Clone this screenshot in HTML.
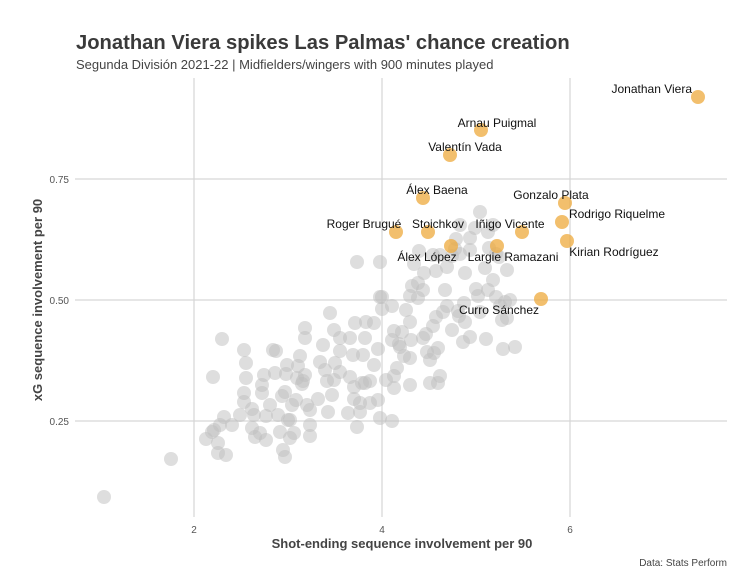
<!DOCTYPE html>
<html><head><meta charset="utf-8"><style>
body{margin:0;background:#fff;}
svg{display:block;font-family:"Liberation Sans",Arial,sans-serif;}
</style></head><body>
<svg width="742" height="571" viewBox="0 0 742 571" xmlns="http://www.w3.org/2000/svg">
<rect width="742" height="571" fill="#fff"/>
<text x="76" y="49" font-size="20.2" font-weight="bold" fill="#3a3a3a">Jonathan Viera spikes Las Palmas' chance creation</text>
<text x="76" y="69" font-size="13" fill="#444">Segunda División 2021-22 | Midfielders/wingers with 900 minutes played</text>
<g stroke="#d6d6d6" stroke-width="1.2">
<line x1="75" y1="179" x2="727" y2="179"/><line x1="75" y1="300" x2="727" y2="300"/><line x1="75" y1="421" x2="727" y2="421"/>
<line x1="194" y1="78" x2="194" y2="517"/><line x1="382" y1="78" x2="382" y2="517"/><line x1="570" y1="78" x2="570" y2="517"/>
</g>
<g font-size="10" fill="#555">
<text x="69" y="183" text-anchor="end">0.75</text><text x="69" y="304" text-anchor="end">0.50</text><text x="69" y="425" text-anchor="end">0.25</text>
<text x="194" y="533" text-anchor="middle">2</text><text x="382" y="533" text-anchor="middle">4</text><text x="570" y="533" text-anchor="middle">6</text>
</g>
<text x="402" y="548" font-size="13" font-weight="bold" fill="#444" text-anchor="middle">Shot-ending sequence involvement per 90</text>
<text transform="translate(42,300) rotate(-90)" font-size="13" font-weight="bold" fill="#444" text-anchor="middle">xG sequence involvement per 90</text>
<text x="727" y="566" font-size="10" fill="#444" text-anchor="end">Data: Stats Perform</text>
<g fill="rgb(190,190,190)" fill-opacity="0.5" id="g">
</g>
<g fill="#eeaa3c" fill-opacity="0.75">
<circle cx="698" cy="97" r="7"/><circle cx="481" cy="130" r="7"/><circle cx="450" cy="155" r="7"/><circle cx="423" cy="198" r="7"/><circle cx="565" cy="203" r="7"/><circle cx="562" cy="222" r="7"/><circle cx="396" cy="232" r="7"/><circle cx="428" cy="232" r="7"/><circle cx="522" cy="232" r="7"/><circle cx="567" cy="241" r="7"/><circle cx="451" cy="246" r="7"/><circle cx="497" cy="246" r="7"/><circle cx="541" cy="299" r="7"/>
</g>
<g font-size="12" fill="#111">
<text x="692" y="93" text-anchor="end">Jonathan Viera</text>
<text x="497" y="127" text-anchor="middle">Arnau Puigmal</text>
<text x="465" y="151" text-anchor="middle">Valentín Vada</text>
<text x="437" y="194" text-anchor="middle">Álex Baena</text>
<text x="551" y="199" text-anchor="middle">Gonzalo Plata</text>
<text x="617" y="218" text-anchor="middle">Rodrigo Riquelme</text>
<text x="364" y="228" text-anchor="middle">Roger Brugué</text>
<text x="438" y="228" text-anchor="middle">Stoichkov</text>
<text x="510" y="228" text-anchor="middle">Iñigo Vicente</text>
<text x="614" y="256" text-anchor="middle">Kirian Rodríguez</text>
<text x="427" y="261" text-anchor="middle">Álex López</text>
<text x="513" y="261" text-anchor="middle">Largie Ramazani</text>
<text x="499" y="314" text-anchor="middle">Curro Sánchez</text>
</g>
</svg>
<script>
var p=[[104,497],[171,459],[206,439],[212,432],[213,377],[222,339],[218,453],[218,443],[214,430],[226,455],[224,417],[220,425],[232,425],[240,415],[244,402],[244,393],[246,378],[244,350],[246,363],[252,409],[254,415],[252,428],[255,437],[260,433],[262,385],[264,375],[262,393],[266,440],[266,416],[270,405],[273,350],[276,351],[275,373],[278,415],[280,432],[285,392],[286,374],[282,396],[290,438],[290,420],[294,433],[296,400],[297,378],[298,366],[287,365],[283,450],[285,457],[288,420],[292,405],[303,381],[302,384],[305,375],[300,356],[305,338],[305,328],[307,405],[310,410],[310,425],[310,436],[318,399],[320,362],[323,345],[325,370],[327,381],[328,412],[332,395],[335,363],[340,372],[340,351],[348,413],[354,399],[354,387],[357,427],[360,412],[362,383],[363,355],[365,338],[366,322],[370,403],[370,381],[374,365],[378,349],[380,418],[386,380],[378,400],[392,421],[394,388],[394,376],[397,368],[399,344],[394,331],[402,332],[404,356],[406,310],[410,358],[410,322],[411,340],[410,385],[418,298],[418,283],[423,338],[426,334],[423,290],[424,273],[419,251],[433,255],[436,271],[440,255],[447,267],[452,256],[455,249],[460,254],[465,273],[470,250],[475,228],[460,225],[470,238],[480,212],[488,232],[493,225],[496,254],[499,257],[507,270],[510,300],[500,306],[507,318],[515,347],[505,302],[480,312],[464,303],[459,316],[452,330],[447,306],[445,290],[433,326],[436,317],[412,286],[414,264],[427,352],[434,353],[440,376],[438,348],[443,312],[465,322],[478,296],[488,290],[485,268],[463,342],[470,337],[486,339],[503,349],[502,320],[496,297],[493,280],[489,248],[430,360],[392,306],[380,297],[382,309],[392,340],[400,347],[374,323],[355,323],[350,338],[340,338],[334,330],[330,313],[334,380],[350,377],[353,355],[365,383],[360,403],[357,262],[380,262],[382,297],[410,296],[456,239],[476,289],[430,383],[438,383],[458,311]];
var g=document.getElementById('g'),s='';
p.forEach(function(q){s+='<circle cx="'+q[0]+'" cy="'+q[1]+'" r="7"/>';});
g.innerHTML=s;
</script>
</body></html>
